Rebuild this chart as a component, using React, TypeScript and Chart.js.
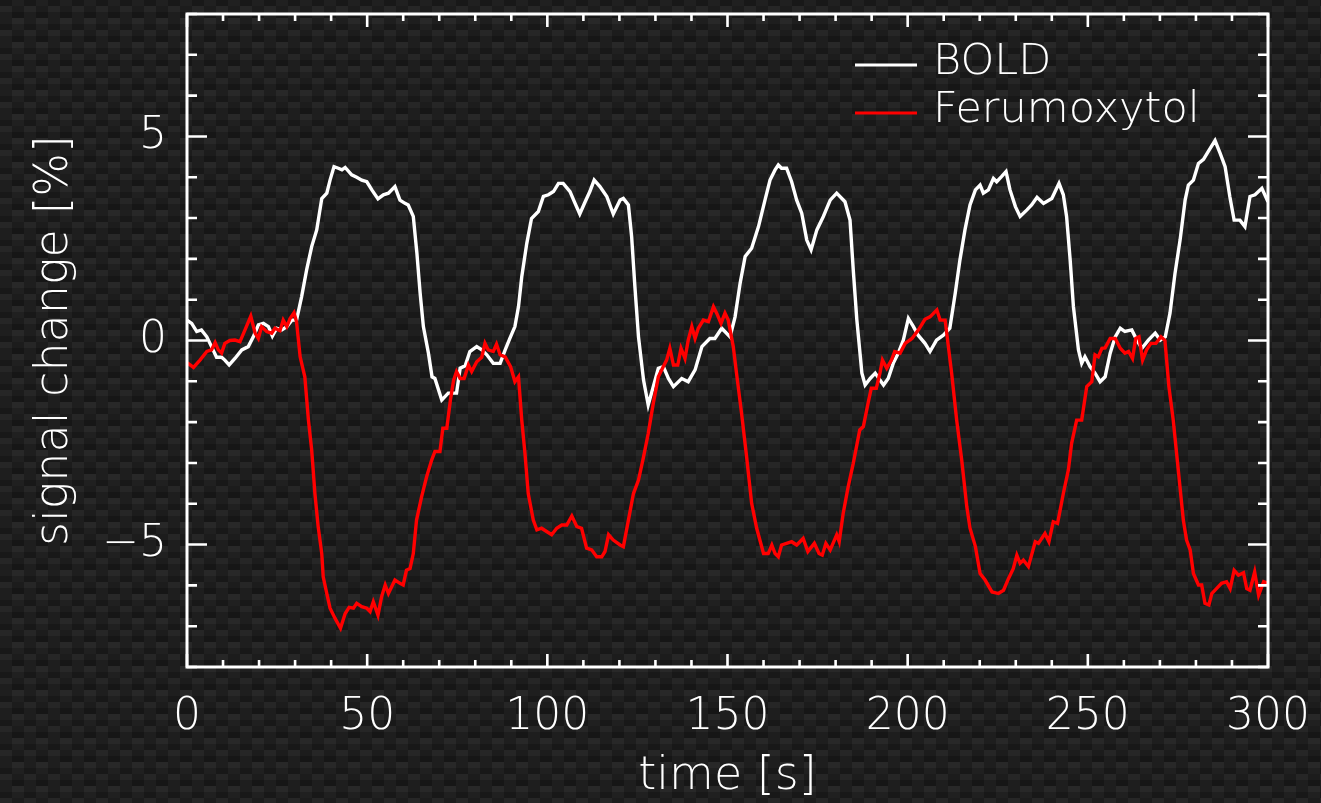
import React, { useEffect, useRef } from "react";
import { Chart, registerables } from "chart.js";

Chart.register(...registerables);

// ---------------- data ----------------
const boldTimes = [
  0, 1.3, 2.7, 4, 5.5, 6.8, 8.2, 9.6, 10.5, 11.7, 13.3, 15.2, 17, 18.4, 19.8, 21.2, 22.6, 23.7, 24.9, 26.3,
  27.7, 29.1, 30.4, 31.8, 33.2, 34.6, 36, 37.4, 38.8, 39.7, 40.8, 42, 43, 43.9, 45.7, 47.1, 48.5, 49.9, 51.3, 53,
  54.5, 55.9, 57.7, 59.1, 60.5, 61.4, 62.8, 63.8, 64.7, 65.6, 67, 68, 68.8, 70.7, 72.5, 74.8, 75.8, 77.2, 78.5, 80.4,
  81.8, 83.2, 85, 86.9, 88.3, 89.6, 91, 92, 92.9, 94.3, 95.6, 97.5, 98.9, 100.3, 101.7, 103.1, 104.4, 106.3, 107.7, 109,
  110.5, 111.8, 113, 114.6, 116.5, 118.3, 120.2, 121.1, 122.5, 123.4, 124.3, 125.3, 126.7, 128, 129.4, 130.8, 132.2, 133.6, 135, 137.3,
  139.1, 141, 142.9, 145.1, 146.5, 148.4, 150.7, 152.1, 153.5, 154.9, 156.7, 158.6, 160.4, 161.8, 163.2, 164.1, 165, 166.4, 167.8, 169.2,
  170.6, 172, 173.2, 174.8, 176.6, 178.5, 180.3, 182.6, 184, 184.9, 185.9, 187.3, 188.2, 189.6, 191, 192.3, 193.3, 194.6, 196, 197.4,
  198.8, 200.2, 201.6, 202.9, 204.8, 206.2, 208, 209.9, 211.7, 213.2, 214.5, 215.9, 217.3, 218.8, 220.1, 221, 222.4, 223.8, 224.7, 226.1,
  227.3, 228.4, 229.9, 231.2, 233.1, 234.4, 235.9, 237.7, 240, 242, 243.2, 244.1, 245.1, 246, 247.4, 248.3, 249.2, 250.6, 252, 253.4,
  254.8, 256.2, 257.6, 259, 260.3, 262.2, 263.6, 265, 266.8, 268.7, 270.1, 271.5, 272.8, 274.2, 275.6, 277, 277.9, 279.3, 280.7, 282.1,
  283.4, 285.3, 286.7, 288.1, 289.4, 290.6, 292.2, 293.6, 295, 296.4, 298.3, 300,
];
const boldSignal = [
  0.5, 0.42, 0.22, 0.26, 0.09, -0.15, -0.41, -0.41, -0.48, -0.6, -0.44, -0.23, -0.15, 0.09, 0.38, 0.42, 0.34, 0.11, 0.3, 0.26,
  0.34, 0.5, 0.5, 1.07, 1.73, 2.3, 2.71, 3.48, 3.61, 3.93, 4.26, 4.22, 4.18, 4.24, 4.06, 4.0, 3.93, 3.89, 3.69, 3.47,
  3.57, 3.61, 3.77, 3.44, 3.36, 3.32, 3.04, 2.14, 1.16, 0.34, -0.31, -0.89, -0.93, -1.46, -1.29, -1.29, -0.68, -0.62, -0.27, -0.15,
  -0.23, -0.35, -0.56, -0.56, -0.23, 0.05, 0.34, 0.83, 1.56, 2.38, 2.99, 3.16, 3.53, 3.57, 3.65, 3.85, 3.85, 3.65, 3.36, 3.1,
  3.4, 3.65, 3.93, 3.77, 3.53, 3.1, 3.44, 3.48, 3.32, 2.54, 1.32, 0.09, -0.97, -1.58, -1.13, -0.68, -0.64, -0.93, -1.13, -0.93,
  -1.01, -0.72, -0.15, 0.05, 0.05, 0.3, 0.09, 0.58, 1.4, 2.06, 2.26, 2.79, 3.44, 3.93, 4.18, 4.3, 4.22, 4.22, 3.89, 3.44,
  3.12, 2.46, 2.22, 2.71, 3.04, 3.44, 3.61, 3.4, 2.95, 1.73, 0.5, -0.8, -1.09, -0.93, -0.8, -0.97, -1.09, -0.93, -0.56, -0.31,
  0.01, 0.54, 0.34, 0.13, -0.07, -0.27, 0.01, 0.13, 0.3, 1.16, 1.97, 2.71, 3.32, 3.69, 3.81, 3.61, 3.69, 3.97, 3.89, 4.02,
  4.14, 3.69, 3.28, 3.04, 3.2, 3.32, 3.51, 3.36, 3.48, 3.85, 3.57, 3.04, 1.97, 0.83, -0.23, -0.56, -0.4, -0.64, -0.8, -1.01,
  -0.89, -0.31, 0.09, 0.3, 0.22, 0.26, 0.01, -0.19, 0.01, 0.18, 0.01, 0.09, 0.67, 1.65, 2.46, 3.44, 3.81, 3.93, 4.34, 4.44,
  4.63, 4.9, 4.59, 4.26, 3.53, 2.95, 2.95, 2.79, 3.53, 3.57, 3.73, 3.4,
];

const feruTimes = [
  0, 1.8, 3.6, 5.5, 6.8, 7.8, 8.7, 9.6, 10.5, 11.9, 13.3, 14.7, 16.1, 17.7, 18.9, 19.8, 20.7, 22.1, 23.5, 24.4,
  25.8, 26.7, 27.7, 28.6, 29.7, 30.4, 31.4, 32.7, 33.7, 34.6, 35.5, 36.4, 37.4, 37.8, 38.8, 39.7, 41.1, 42.6, 43.9, 45,
  46.2, 47.1, 48.5, 49.9, 50.8, 51.7, 53, 54, 55, 55.9, 57.7, 59.1, 60, 60.9, 61.9, 62.8, 63.7, 65.1, 66.5, 67.9,
  68.8, 70.2, 71, 72.1, 73.1, 74, 74.8, 75.8, 76.9, 78.1, 79, 80.4, 81.8, 82.7, 83.6, 85, 85.9, 86.9, 88.3, 89.8,
  91, 92, 92.9, 93.8, 94.7, 96.1, 97.1, 98.4, 99.8, 101.2, 102.6, 104, 105.4, 106.8, 108.2, 109.5, 110.9, 112.3, 113.7, 115.1,
  116, 117, 118.3, 120.2, 121.1, 122.5, 123.9, 125.3, 126.7, 128, 129.4, 130.8, 132.2, 133.1, 134, 135, 136.2, 137.1, 138.2, 139.1,
  140.1, 141, 141.9, 143.3, 144.7, 146.1, 147, 148.2, 149.3, 150.2, 151.6, 152.5, 153.9, 155.3, 156.7, 158.1, 160, 161.3, 162.3, 163.2,
  164.1, 165, 166.4, 167.8, 169.2, 171, 172.3, 174.1, 175.4, 176.3, 177.3, 178.5, 180.3, 181, 182.1, 183.5, 184.9, 186.7, 187.7, 189,
  189.9, 191.3, 192.3, 193, 194.2, 195.5, 196.4, 197.9, 199.3, 201.2, 203, 204.8, 206.2, 208.1, 209, 210.4, 211.3, 212.2, 213.6, 215,
  216.4, 217.3, 218.8, 220.1, 221.5, 223.4, 225.2, 226.6, 228, 229.3, 230.3, 231.2, 232.1, 233.5, 235.4, 236.3, 238.1, 239.2, 240.4, 241.6,
  243.2, 244.6, 245.5, 246.9, 248.3, 249.7, 251.1, 252, 252.9, 253.9, 254.8, 256.2, 257.6, 259, 260.3, 261.3, 262.4, 263.3, 264.2, 265.2,
  266.3, 267.5, 268.9, 270.3, 271.4, 272.5, 273.7, 275.1, 276.5, 277.4, 278.4, 279.3, 280.7, 281.6, 282.5, 283.6, 284.4, 285.7, 287.1, 288.5,
  289.5, 290.6, 291.8, 293.2, 294.1, 295, 296.3, 297.4, 298.8, 300,
];
const feruSignal = [
  -0.54, -0.66, -0.48, -0.27, -0.23, -0.05, -0.23, -0.31, -0.07, 0.0, 0.01, -0.03, 0.26, 0.6, 0.18, 0.05, 0.34, 0.22, 0.18, 0.3,
  0.24, 0.5, 0.34, 0.54, 0.68, 0.46, -0.4, -0.89, -1.95, -2.68, -3.75, -4.56, -5.22, -5.79, -6.2, -6.56, -6.81, -7.05, -6.69, -6.54,
  -6.56, -6.44, -6.52, -6.56, -6.64, -6.4, -6.73, -6.28, -5.99, -6.2, -5.87, -5.95, -5.99, -5.63, -5.59, -5.22, -4.4, -3.83, -3.34, -2.93,
  -2.72, -2.72, -2.15, -2.15, -1.46, -0.97, -0.76, -0.93, -0.93, -0.6, -0.76, -0.52, -0.41, -0.07, -0.23, -0.27, -0.09, -0.35, -0.4, -0.64,
  -1.01, -0.89, -1.95, -2.77, -3.75, -4.4, -4.64, -4.6, -4.68, -4.76, -4.6, -4.52, -4.52, -4.3, -4.56, -4.6, -5.09, -5.13, -5.3, -5.3,
  -5.17, -4.76, -4.89, -5.01, -5.05, -4.4, -3.75, -3.42, -2.85, -2.28, -1.54, -0.89, -0.64, -0.48, -0.19, -0.6, -0.6, -0.19, -0.44, 0.01,
  0.34, 0.05, 0.3, 0.5, 0.46, 0.83, 0.67, 0.42, 0.67, 0.5, -0.15, -0.8, -1.78, -2.85, -3.99, -4.6, -5.22, -5.22, -5.01, -5.22,
  -5.3, -5.01, -4.97, -4.93, -5.01, -4.85, -5.17, -4.97, -5.22, -5.26, -4.97, -5.13, -4.76, -4.93, -4.24, -3.58, -3.01, -2.19, -2.11, -1.54,
  -1.17, -1.17, -0.8, -0.48, -0.68, -0.48, -0.27, -0.31, -0.07, 0.05, 0.26, 0.52, 0.58, 0.75, 0.5, 0.5, -0.15, -0.8, -1.95, -2.93,
  -4.07, -4.6, -5.05, -5.71, -5.87, -6.16, -6.2, -6.12, -5.83, -5.59, -5.26, -5.46, -5.38, -5.54, -4.93, -4.97, -4.73, -4.93, -4.44, -4.48,
  -3.75, -3.17, -2.52, -1.95, -1.95, -1.13, -1.01, -0.35, -0.4, -0.19, -0.18, 0.05, 0.05, -0.19, -0.31, -0.27, -0.44, 0.05, 0.09, -0.48,
  -0.23, -0.07, -0.07, 0.09, 0.0, -1.13, -1.95, -3.17, -4.4, -4.89, -5.13, -5.71, -5.99, -5.99, -6.44, -6.48, -6.2, -6.08, -5.95, -5.91,
  -6.08, -5.63, -5.75, -5.69, -6.08, -6.12, -5.67, -6.24, -5.91, -5.95,
];

const seriesLabels = ["BOLD", "Ferumoxytol"];
const seriesColors = ["#ffffff", "#ff0000"];

const xRange = [0, 300];
const yRange = [-8, 8];
const xTickLabels = [0, 50, 100, 150, 200, 250, 300];
const yTickLabels = [-5, 0, 5];
const xMinorStep = 10;
const xMajorStep = 50;
const yMinorStep = 1;
const yMajorStep = 5;

const xTitle = "time [s]";
const yTitle = "signal change [%]";

// ---------------- styling ----------------
const FONT_FAMILY = "'DejaVu Sans', 'Noto Sans', sans-serif";
const FONT_WEIGHT = "200";
const WHITE = "#ffffff";

const carbonStyle: React.CSSProperties = {
  position: "fixed",
  left: 0,
  top: 0,
  width: 1321,
  height: 803,
  backgroundColor: "#161616",
  backgroundImage: [
    "linear-gradient(27deg, #181818 6px, transparent 6px)",
    "linear-gradient(207deg, #181818 6px, transparent 6px)",
    "linear-gradient(27deg, #262626 6px, transparent 6px)",
    "linear-gradient(207deg, #262626 6px, transparent 6px)",
    "linear-gradient(90deg, #1e1e1e 12px, transparent 12px)",
    "linear-gradient(#202020 25%, #1c1c1c 25%, #1c1c1c 50%, transparent 50%, transparent 75%, #282828 75%, #282828)",
  ].join(","),
  backgroundPosition: "0 6px, 12px 0, 0 12px, 12px 6px, 0 0, 0 0",
  backgroundSize: "24px 24px",
  overflow: "hidden",
};

// frame + inward ticks on all four sides
const frameTicksPlugin = {
  id: "frameTicks",
  afterDatasetsDraw(chart: any) {
    const { ctx, chartArea } = chart;
    const { left, right, top, bottom } = chartArea;
    const xs = chart.scales.x;
    const ys = chart.scales.y;
    ctx.save();
    ctx.strokeStyle = WHITE;
    ctx.lineCap = "butt";
    ctx.lineWidth = 2.6;
    ctx.beginPath();
    for (let v = xRange[0]; v <= xRange[1] + 1e-9; v += xMinorStep) {
      const px = xs.getPixelForValue(v);
      const len = Math.abs(v % xMajorStep) < 1e-9 ? 13 : 7;
      ctx.moveTo(px, bottom);
      ctx.lineTo(px, bottom - len);
      ctx.moveTo(px, top);
      ctx.lineTo(px, top + len);
    }
    for (let v = yRange[0]; v <= yRange[1] + 1e-9; v += yMinorStep) {
      const py = ys.getPixelForValue(v);
      const len = Math.abs(v % yMajorStep) < 1e-9 ? 20 : 10;
      ctx.moveTo(left, py);
      ctx.lineTo(left + len, py);
      ctx.moveTo(right, py);
      ctx.lineTo(right - len, py);
    }
    ctx.stroke();
    ctx.lineWidth = 3;
    ctx.strokeRect(left, top, right - left, bottom - top);
    ctx.restore();
  },
};

// legend drawn inside the plot area, upper right
const innerLegendPlugin = {
  id: "innerLegend",
  afterDatasetsDraw(chart: any) {
    const { ctx, chartArea } = chart;
    const lineX0 = chartArea.left + 668;
    const lineX1 = chartArea.left + 730;
    const textX = chartArea.left + 746;
    const rowY0 = chartArea.top + 49;
    const rowGap = 48;
    ctx.save();
    ctx.font = `${FONT_WEIGHT} 43px ${FONT_FAMILY}`;
    ctx.textBaseline = "middle";
    ctx.textAlign = "left";
    chart.data.datasets.forEach((ds: any, i: number) => {
      const y = rowY0 + i * rowGap;
      ctx.strokeStyle = ds.borderColor;
      ctx.lineWidth = 3;
      ctx.beginPath();
      ctx.moveTo(lineX0, y + 2);
      ctx.lineTo(lineX1, y + 2);
      ctx.stroke();
      ctx.fillStyle = WHITE;
      ctx.fillText(ds.label, textX, y);
    });
    ctx.restore();
  },
};

export default function App() {
  const canvasRef = useRef<HTMLCanvasElement | null>(null);

  useEffect(() => {
    const canvas = canvasRef.current;
    if (!canvas) return;

    const tickFont = { family: FONT_FAMILY, size: 44, weight: FONT_WEIGHT, lineHeight: 1 };
    const titleFont = { family: FONT_FAMILY, size: 46, weight: FONT_WEIGHT, lineHeight: 1 };

    const chart = new Chart(canvas, {
      type: "line",
      data: {
        datasets: [
          {
            label: seriesLabels[0],
            data: boldTimes.map((t, i) => ({ x: t, y: boldSignal[i] })),
            borderColor: seriesColors[0],
            backgroundColor: seriesColors[0],
            borderWidth: 3.4,
            pointRadius: 0,
            tension: 0,
            fill: false,
            order: 1,
          },
          {
            label: seriesLabels[1],
            data: feruTimes.map((t, i) => ({ x: t, y: feruSignal[i] })),
            borderColor: seriesColors[1],
            backgroundColor: seriesColors[1],
            borderWidth: 3.4,
            pointRadius: 0,
            tension: 0,
            fill: false,
            order: 0,
          },
        ],
      },
      options: {
        animation: false,
        responsive: false,
        devicePixelRatio: 1,
        layout: { padding: { top: 14, right: 53, left: 0, bottom: 0 } },
        plugins: {
          legend: { display: false },
          title: { display: false },
          tooltip: { enabled: false },
        },
        events: [],
        scales: {
          x: {
            type: "linear",
            min: xRange[0],
            max: xRange[1],
            grid: { display: false, drawTicks: false },
            border: { display: false },
            afterBuildTicks: (s: any) => {
              s.ticks = xTickLabels.map((v) => ({ value: v }));
            },
            afterFit: (s: any) => {
              s.height = 136;
              s.paddingLeft = 0;
              s.paddingRight = 0;
            },
            ticks: {
              color: WHITE,
              font: tickFont,
              padding: 29,
              maxRotation: 0,
              minRotation: 0,
              autoSkip: false,
              callback: (v: any) => String(v),
            },
            title: {
              display: true,
              text: xTitle,
              color: WHITE,
              font: titleFont,
              padding: { top: 0, bottom: 3 },
            },
          },
          y: {
            type: "linear",
            min: yRange[0],
            max: yRange[1],
            grid: { display: false, drawTicks: false },
            border: { display: false },
            afterBuildTicks: (s: any) => {
              s.ticks = yTickLabels.map((v) => ({ value: v }));
            },
            afterFit: (s: any) => {
              s.width = 187;
              s.paddingTop = 0;
              s.paddingBottom = 0;
            },
            ticks: {
              color: WHITE,
              font: tickFont,
              padding: 20,
              autoSkip: false,
              callback: (v: any) => (v < 0 ? "\u2212" + Math.abs(v) : String(v)),
            },
            title: {
              display: true,
              text: yTitle,
              color: WHITE,
              font: titleFont,
              padding: { top: 32, bottom: 0 },
            },
          },
        },
      },
      plugins: [frameTicksPlugin, innerLegendPlugin],
    } as any);

    return () => {
      chart.destroy();
    };
  }, []);

  return (
    <div style={carbonStyle}>
      <canvas
        ref={canvasRef}
        width={1321}
        height={803}
        style={{ display: "block", width: 1321, height: 803 }}
      />
    </div>
  );
}
